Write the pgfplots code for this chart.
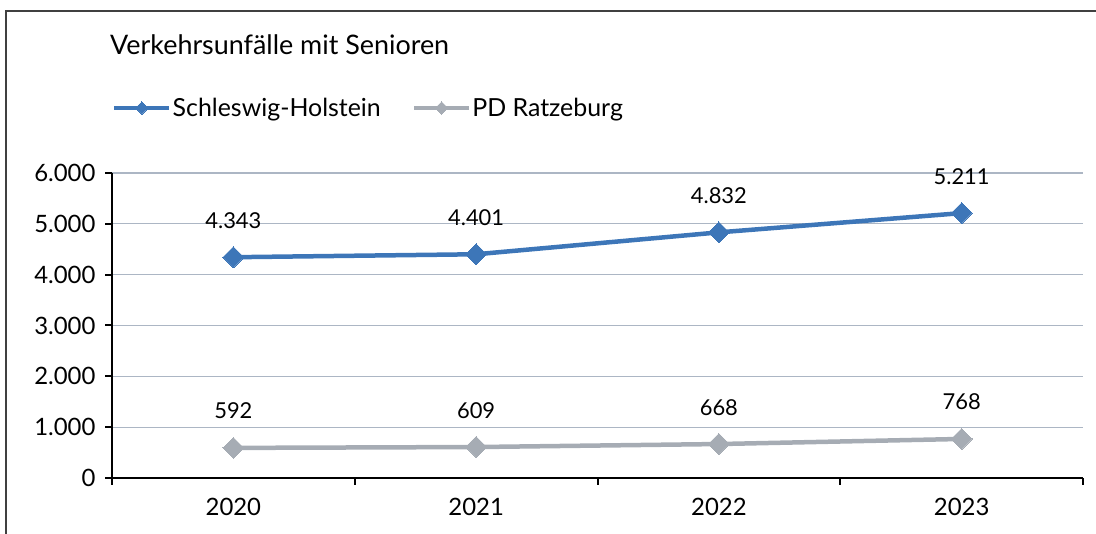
\documentclass[border=0pt]{standalone}
\usepackage{pgfplots}
\pgfplotsset{compat=1.18}
\usepackage{fontspec}
\setmainfont{Lato}
\definecolor{shblue}{RGB}{61,118,184}
\definecolor{pdgrey}{RGB}{166,172,180}
\definecolor{gridc}{RGB}{172,182,196}
\begin{document}
\begin{tikzpicture}[x=1bp,y=1bp]
\useasboundingbox (0,0) rectangle (1096,534);
\draw[line width=1.5bp, black!75] (6,0) -- (6,523) -- (1096,523);
\node[anchor=base west, inner sep=0pt, font=\fontsize{27}{32}\selectfont] at (110,479) {Verkehrsunfälle mit Senioren};
\begin{axis}[
  at={(112bp,56bp)}, anchor=south west,
  scale only axis, width=971bp, height=305bp,
  xmin=-0.5, xmax=3.5, ymin=0, ymax=6000,
  axis x line*=bottom, axis y line*=left,
  axis line style={-, line width=2bp, black},
  xtick={0,1,2,3}, xticklabels={2020,2021,2022,2023},
  minor xtick={-0.5,0.5,1.5,2.5,3.5},
  major x tick style={draw=none},
  minor x tick style={line width=2bp, black},
  minor tick length=7bp,
  ytick={0,1000,2000,3000,4000,5000,6000},
  y tick style={line width=2bp, black},
  major tick length=7bp,
  tick align=outside,
  ymajorgrids, grid style={gridc, line width=1.2bp},
  scaled y ticks=false,
  /pgf/number format/.cd, 1000 sep={.}, assume math mode=true,
  /pgfplots/.cd,
  yticklabel style={font=\fontsize{24}{28}\selectfont, xshift=-6bp},
  xticklabel style={font=\fontsize{24}{28}\selectfont, yshift=-10bp},
  nodes near coords,
  every node near coord/.append style={font=\fontsize{22}{26}\selectfont, anchor=base, inner sep=0pt, yshift=29bp, text=black},
  legend columns=2,
  legend style={draw=none, fill=none, at={(0,1)}, anchor=west, yshift=65bp, xshift=0bp,
    font=\fontsize{25}{30}\selectfont, inner sep=0pt,
    nodes={inner sep=1bp},
    /tikz/every even column/.append style={column sep=30bp}},
  legend image code/.code={\draw[#1, mark size=4.4bp, mark repeat=2, mark phase=2] plot coordinates {(0bp,0bp) (27.5bp,0bp) (55bp,0bp)};},
  clip=false,
]
\addplot[shblue, line width=4.5bp, mark=square*, mark size=7.4bp, mark options={rotate=45, solid, line width=0pt}] coordinates {(0,4343) (1,4401) (2,4832) (3,5211)};
\addlegendentry{Schleswig-Holstein}
\addplot[pdgrey, line width=4.5bp, mark=square*, mark size=7.4bp, mark options={rotate=45, solid, line width=0pt}] coordinates {(0,592) (1,609) (2,668) (3,768)};
\addlegendentry{PD Ratzeburg}
\end{axis}
\end{tikzpicture}
\end{document}
